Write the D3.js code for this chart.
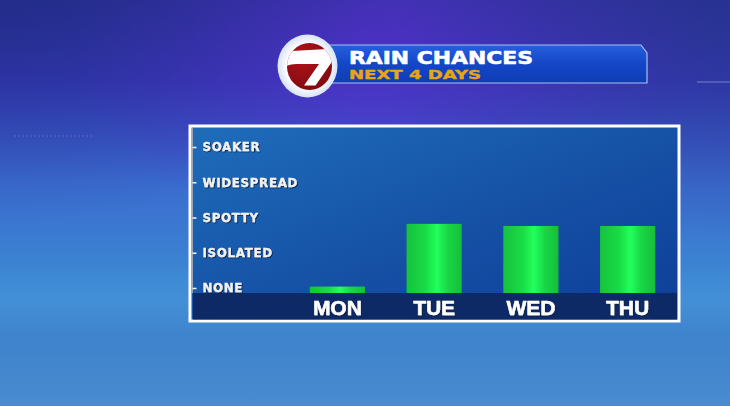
<!DOCTYPE html>
<html>
<head>
<meta charset="utf-8">
<script src="https://cdn.jsdelivr.net/npm/d3@7"></script>
<style>
  html, body { margin: 0; padding: 0; background: #2f4fb8; overflow: hidden; }
  svg { display: block; font-family: "Liberation Sans", Arial, sans-serif; }
</style>
</head>
<body>
<div id="chart"></div>
<script>
// rain chance levels, bottom to top
const levels = ['NONE', 'ISOLATED', 'SPOTTY', 'WIDESPREAD', 'SOAKER'];
const days = ['MON', 'TUE', 'WED', 'THU'];
// chance in level units (0 = NONE ... 4 = SOAKER)
const chances = [0.04, 1.82, 1.76, 1.76];

const titleText = 'RAIN CHANCES';
const subtitleText = 'NEXT 4 DAYS';

const width = 730;
const height = 406;

const svg = d3.select('#chart')
  .append('svg')
  .attr('width', width)
  .attr('height', height);

const defs = svg.append('defs');

// background gradients
const bg = defs.append('linearGradient').attr('id', 'bg')
  .attr('x1', 0).attr('y1', 0).attr('x2', 0).attr('y2', 1);
[['0', '#2a319a'], ['0.2', '#3539b8'], ['0.45', '#3a6cd0'], ['0.68', '#3c86d2'], ['0.85', '#3f84cc'], ['1', '#4a8bd0']]
  .forEach(([o, c]) => bg.append('stop').attr('offset', o).attr('stop-color', c));

const glow = defs.append('radialGradient').attr('id', 'glow')
  .attr('cx', 0.53).attr('cy', 0.12).attr('r', 0.45);
glow.append('stop').attr('offset', 0).attr('stop-color', '#5a2fd0').attr('stop-opacity', 0.7);
glow.append('stop').attr('offset', 1).attr('stop-color', '#5a2fd0').attr('stop-opacity', 0);

const darkCorner = defs.append('radialGradient').attr('id', 'darkCorner')
  .attr('cx', 0).attr('cy', 0).attr('r', 0.55);
darkCorner.append('stop').attr('offset', 0).attr('stop-color', '#1c2878').attr('stop-opacity', 0.5);
darkCorner.append('stop').attr('offset', 1).attr('stop-color', '#1c2878').attr('stop-opacity', 0);

const darkRight = defs.append('radialGradient').attr('id', 'darkRight')
  .attr('cx', 1).attr('cy', 0.1).attr('r', 0.5);
darkRight.append('stop').attr('offset', 0).attr('stop-color', '#263486').attr('stop-opacity', 0.5);
darkRight.append('stop').attr('offset', 1).attr('stop-color', '#263486').attr('stop-opacity', 0);

const streak = defs.append('linearGradient').attr('id', 'streak')
  .attr('x1', 0).attr('y1', 0).attr('x2', 0).attr('y2', 1);
streak.append('stop').attr('offset', 0).attr('stop-color', '#55aaea').attr('stop-opacity', 0);
streak.append('stop').attr('offset', 0.5).attr('stop-color', '#55aaea').attr('stop-opacity', 0.28);
streak.append('stop').attr('offset', 1).attr('stop-color', '#55aaea').attr('stop-opacity', 0);

svg.append('rect').attr('width', width).attr('height', height).attr('fill', 'url(#bg)');
svg.append('rect').attr('y', 265).attr('width', width).attr('height', 70).attr('fill', 'url(#streak)');
svg.append('rect').attr('width', width).attr('height', height).attr('fill', 'url(#glow)');
svg.append('rect').attr('width', width).attr('height', height).attr('fill', 'url(#darkCorner)');
svg.append('rect').attr('width', width).attr('height', height).attr('fill', 'url(#darkRight)');

// faint decoration lines
svg.append('g')
  .attr('stroke', '#8fa4e0')
  .attr('stroke-opacity', 0.35)
  .call(g => g.append('line').attr('x1', 697).attr('x2', 730).attr('y1', 82).attr('y2', 82).attr('stroke-width', 2))
  .call(g => g.append('line').attr('x1', 14).attr('x2', 92).attr('y1', 136).attr('y2', 136).attr('stroke-dasharray', '2,2'));

// ---- header ----
const bannerGrad = defs.append('linearGradient').attr('id', 'banner')
  .attr('x1', 0).attr('y1', 0).attr('x2', 0).attr('y2', 1);
bannerGrad.append('stop').attr('offset', 0).attr('stop-color', '#2560de');
bannerGrad.append('stop').attr('offset', 0.5).attr('stop-color', '#1446c6');
bannerGrad.append('stop').attr('offset', 1).attr('stop-color', '#0e3cb4');

const header = svg.append('g');
header.append('path')
  .attr('d', 'M318,45 L641,45 L647,53 L647,83 L318,83 Z')
  .attr('fill', 'url(#banner)')
  .attr('stroke', '#a9bff2')
  .attr('stroke-width', 1.2);

header.append('text')
  .attr('x', 349).attr('y', 63.5)
  .attr('font-size', 18)
  .attr('font-weight', 'bold')
  .attr('font-family', '"DejaVu Sans", sans-serif')
  .attr('fill', '#ffffff')
  .attr('stroke', '#ffffff')
  .attr('stroke-width', 0.6)
  .attr('textLength', 184)
  .attr('lengthAdjust', 'spacingAndGlyphs')
  .text(titleText);

header.append('text')
  .attr('x', 349).attr('y', 78.5)
  .attr('font-size', 12.5)
  .attr('font-weight', 'bold')
  .attr('font-family', '"DejaVu Sans", sans-serif')
  .attr('fill', '#e9a414')
  .attr('stroke', '#e9a414')
  .attr('stroke-width', 0.4)
  .attr('textLength', 132)
  .attr('lengthAdjust', 'spacingAndGlyphs')
  .text(subtitleText);

// logo
const logoRing = defs.append('radialGradient').attr('id', 'logoRing');
logoRing.append('stop').attr('offset', 0.7).attr('stop-color', '#ffffff');
logoRing.append('stop').attr('offset', 1).attr('stop-color', '#d6e2f4');
const logoRed = defs.append('radialGradient').attr('id', 'logoRed')
  .attr('cx', 0.35).attr('cy', 0.3).attr('r', 0.8);
logoRed.append('stop').attr('offset', 0).attr('stop-color', '#b3121a');
logoRed.append('stop').attr('offset', 1).attr('stop-color', '#7c0a10');
defs.append('clipPath').attr('id', 'logoClip')
  .append('ellipse').attr('cx', 309.5).attr('cy', 66.5).attr('rx', 22.5).attr('ry', 23.5);

header.append('ellipse')
  .attr('cx', 307.5).attr('cy', 66)
  .attr('rx', 30).attr('ry', 31.5)
  .attr('fill', 'url(#logoRing)');
header.append('ellipse')
  .attr('cx', 309.5).attr('cy', 66.5)
  .attr('rx', 22.5).attr('ry', 23.5)
  .attr('fill', 'url(#logoRed)');
header.append('path')
  .attr('clip-path', 'url(#logoClip)')
  .attr('d', 'M284,51.5 L336,48.5 L336,56 L315.5,85.5 L304,85.5 L319,64 L296,64 Q289,64.5 284,67 Z')
  .attr('fill', '#ffffff');

// ---- chart panel ----
const panel = { x: 190, y: 126, w: 489, h: 195, stripTop: 293 };

const panelGrad = defs.append('linearGradient').attr('id', 'panel')
  .attr('x1', 0).attr('y1', 0).attr('x2', 1).attr('y2', 1);
panelGrad.append('stop').attr('offset', 0).attr('stop-color', '#1f6dba');
panelGrad.append('stop').attr('offset', 0.55).attr('stop-color', '#1550a5');
panelGrad.append('stop').attr('offset', 1).attr('stop-color', '#0e3e98');

svg.append('rect')
  .attr('x', panel.x).attr('y', panel.y)
  .attr('width', panel.w).attr('height', panel.h)
  .attr('fill', 'url(#panel)')
  .attr('stroke', '#ffffff')
  .attr('stroke-width', 3);

svg.append('rect')
  .attr('x', panel.x + 3).attr('y', panel.stripTop)
  .attr('width', panel.w - 5).attr('height', panel.y + panel.h - panel.stripTop - 1.5)
  .attr('fill', '#0e2a66');

svg.append('line')
  .attr('x1', panel.x + 2.5).attr('x2', panel.x + 2.5)
  .attr('y1', panel.y + 2).attr('y2', panel.stripTop)
  .attr('stroke', '#9aa6b8').attr('stroke-width', 1);

// scales
const y = d3.scaleLinear()
  .domain([0, levels.length - 1])
  .range([288, 147]);

const x = d3.scaleBand()
  .domain(days)
  .range([289, 676])
  .paddingInner(0.43)
  .paddingOuter(0.215);

// bars
const barGrad = defs.append('linearGradient').attr('id', 'bar')
  .attr('x1', 0).attr('y1', 0).attr('x2', 1).attr('y2', 0);
[['0', '#16c23d'], ['0.35', '#19dc47'], ['0.55', '#22ff5c'], ['0.75', '#19d646'], ['1', '#14bf3a']]
  .forEach(([o, c]) => barGrad.append('stop').attr('offset', o).attr('stop-color', c));

svg.append('g')
  .selectAll('rect')
  .data(days)
  .join('rect')
  .attr('x', d => x(d))
  .attr('width', x.bandwidth())
  .attr('y', (d, i) => y(chances[i]))
  .attr('height', (d, i) => panel.stripTop - y(chances[i]))
  .attr('fill', 'url(#bar)');

// level labels
const shadow = defs.append('filter').attr('id', 'shadow')
  .attr('x', -0.1).attr('y', -0.3).attr('width', 1.3).attr('height', 1.6);
shadow.append('feDropShadow')
  .attr('dx', 1).attr('dy', 1).attr('stdDeviation', 0.4)
  .attr('flood-color', '#0a1a40').attr('flood-opacity', 0.85);

svg.append('g')
  .attr('transform', 'translate(192.5,0)')
  .call(d3.axisRight(y)
    .tickValues(d3.range(levels.length))
    .tickFormat(i => levels[i])
    .tickSize(4)
    .tickPadding(6))
  .call(g => g.select('.domain').remove())
  .call(g => g.selectAll('line').attr('stroke', '#e8ecf4').attr('stroke-width', 1.6))
  .call(g => g.selectAll('text')
    .attr('fill', '#f2f2f2')
    .attr('stroke', '#f2f2f2')
    .attr('stroke-width', 0.3)
    .attr('font-size', 11.8)
    .attr('font-weight', 'bold')
    .attr('letter-spacing', 0.7)
    .attr('font-family', '"DejaVu Sans", sans-serif')
    .attr('filter', 'url(#shadow)'));

// day labels
svg.append('g')
  .selectAll('text')
  .data(days)
  .join('text')
  .attr('x', d => x(d) + x.bandwidth() / 2)
  .attr('y', 315)
  .attr('text-anchor', 'middle')
  .attr('font-size', 21)
  .attr('font-weight', 'bold')
  .attr('fill', '#ffffff')
  .attr('stroke', '#ffffff')
  .attr('stroke-width', 0.5)
  .attr('filter', 'url(#shadow)')
  .text(d => d);
</script>
</body>
</html>
